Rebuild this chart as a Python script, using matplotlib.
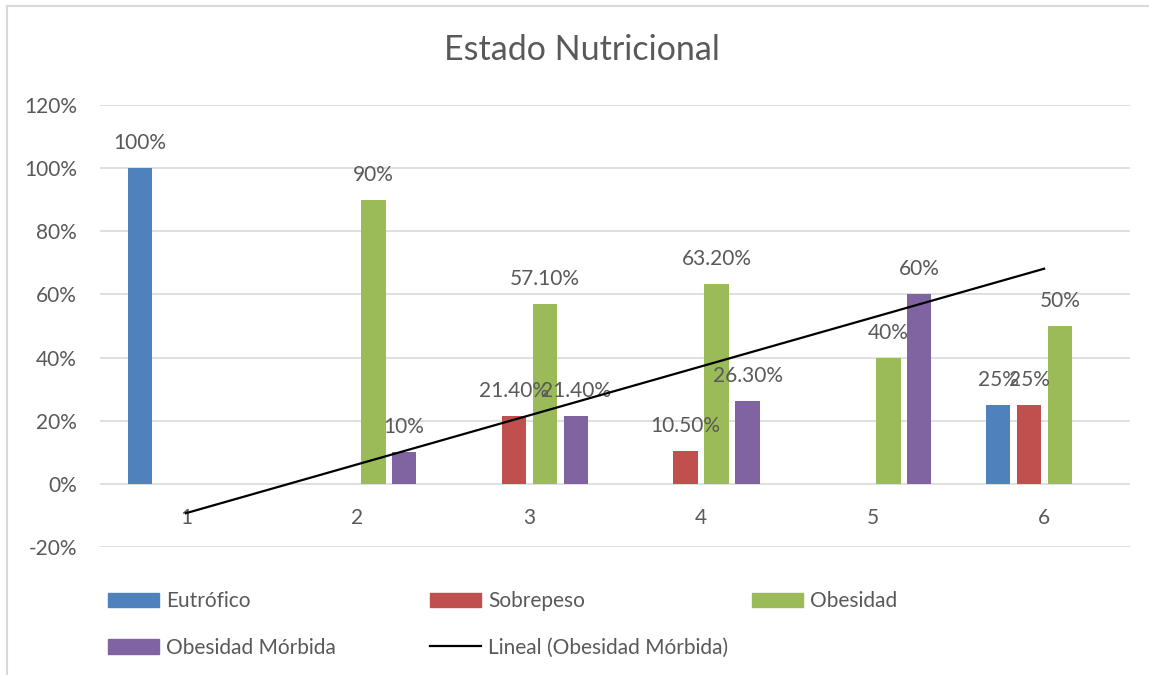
import numpy as np
import matplotlib
matplotlib.use("Agg")
import matplotlib.pyplot as plt
from matplotlib.patches import Patch
from matplotlib.lines import Line2D
from matplotlib.transforms import offset_copy

plt.rcParams['font.family'] = ['Lato', 'DejaVu Sans']

categories = ["1", "2", "3", "4", "5", "6"]
series_names = ["Eutrófico", "Sobrepeso", "Obesidad", "Obesidad Mórbida"]
eutrofico = [1.00, None, None, None, None, 0.25]
sobrepeso = [None, None, 0.214, 0.105, None, 0.25]
obesidad = [None, 0.90, 0.571, 0.632, 0.40, 0.50]
obesidad_morbida = [None, 0.10, 0.214, 0.263, 0.60, None]
labels_eut = ["100%", "", "", "", "", "25%"]
labels_sob = ["", "", "21.40%", "10.50%", "", "25%"]
labels_obe = ["", "90%", "57.10%", "63.20%", "40%", "50%"]
labels_om = ["", "10%", "21.40%", "26.30%", "60%", ""]
yticks = [-0.2, 0.0, 0.2, 0.4, 0.6, 0.8, 1.0, 1.2]
ytick_labels = ["-20%", "0%", "20%", "40%", "60%", "80%", "100%", "120%"]
title = "Estado Nutricional"
trend_label = "Lineal (Obesidad Mórbida)"

colors = ["#4F81BD", "#C0504D", "#9BBB59", "#8064A2"]
text_color = "#595959"
grid_color = "#D9D9D9"
fs = 15

fig = plt.figure(figsize=(11.49, 6.75), dpi=100)
ax = fig.add_axes([100/1149, 1-547/675, 1030/1149, (547-105)/675])

x = np.arange(1, len(categories) + 1)
offsets = [-0.268, -0.088, 0.092, 0.272]
width = 0.143
all_series = [eutrofico, sobrepeso, obesidad, obesidad_morbida]
all_labels = [labels_eut, labels_sob, labels_obe, labels_om]

for s, (vals, labs, off, col) in enumerate(zip(all_series, all_labels, offsets, colors)):
    v = np.array([np.nan if a is None else a for a in vals], dtype=float)
    ax.bar(x + off, np.nan_to_num(v), width=width, color=col, zorder=3)
    for xi, vi, lab in zip(x + off, v, labs):
        if lab and not np.isnan(vi):
            tr = offset_copy(ax.transData, fig=fig, x=0, y=19, units='dots')
            ax.text(xi, vi, lab, transform=tr, ha='center', va='baseline',
                    fontsize=fs, color=text_color, zorder=5)

# linear trendline of Obesidad Mórbida (fit on available points, drawn over full range)
om = np.array([np.nan if a is None else a for a in obesidad_morbida], dtype=float)
mask = ~np.isnan(om)
coef = np.polyfit(x[mask], om[mask], 1)
xt = np.array([x[0], x[-1]], dtype=float)
ax.plot(xt, np.polyval(coef, xt), color='black', lw=1.6, zorder=6)

ax.set_xlim(0.5, 6.5)
ax.set_ylim(-0.2, 1.2)
ax.set_yticks(yticks)
ax.set_yticklabels(ytick_labels, fontsize=fs, color=text_color)
ax.tick_params(axis='y', length=0, pad=16.5)
ax.set_xticks([])
for yv in yticks:
    ax.axhline(yv, color=grid_color, lw=1.2, zorder=1)
for sp in ax.spines.values():
    sp.set_visible(False)

for xi, c in zip(x, categories):
    tr = offset_copy(ax.transData, fig=fig, x=0, y=-24, units='dots')
    ax.text(xi, 0, c, transform=tr, ha='center', va='top', fontsize=fs, color=text_color)

fig.text(582/1149, 1-50/675, title, ha='center', va='center', fontsize=24.5, color=text_color)

# legends (three columns)
def mk_leg(handles, labels, xpx):
    leg = fig.legend(handles, labels, loc='upper left',
                     bbox_to_anchor=(xpx/1149, 1-591/675), frameon=False,
                     fontsize=fs, handlelength=2.45, handleheight=0.68,
                     handletextpad=0.33, labelspacing=1.28, borderpad=0, borderaxespad=0)
    for t in leg.get_texts():
        t.set_color(text_color)
    return leg

h = [Patch(color=c) for c in colors]
hl = Line2D([], [], color='black', lw=1.6)
mk_leg([h[0], h[3]], [series_names[0], series_names[3]], 108)
mk_leg([h[1], hl], [series_names[1], trend_label], 430)
mk_leg([h[2]], [series_names[2]], 752)

# chart border (left and top visible)
fig.add_artist(Line2D([7/1149, 7/1149], [0, 1-6/675], transform=fig.transFigure, color=grid_color, lw=1.5))
fig.add_artist(Line2D([7/1149, 1], [1-6/675, 1-6/675], transform=fig.transFigure, color=grid_color, lw=1.5))

fig.savefig("out.png", dpi=100, facecolor='white')
